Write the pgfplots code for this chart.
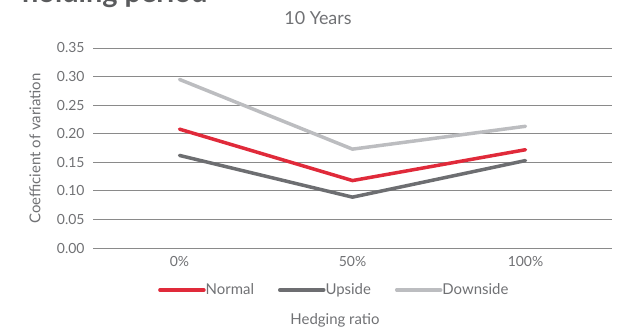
\documentclass[border=0pt]{standalone}
\usepackage{pgfplots}
\pgfplotsset{compat=1.18}
\usepackage{fontspec}
\setmainfont{Lato}
\definecolor{cred}{HTML}{E02A3A}
\definecolor{cdark}{HTML}{6D6E71}
\definecolor{clight}{HTML}{BCBDC0}
\definecolor{ctext}{HTML}{707174}
\definecolor{cgrid}{HTML}{8A8A8A}
\definecolor{ctitle}{HTML}{5A5B5D}
\begin{document}
\begin{tikzpicture}
\path[use as bounding box] (0,0) rectangle (621bp,332bp);
\begin{axis}[
  at={(93bp,84bp)}, anchor=south west,
  scale only axis, width=519bp, height=200bp,
  xmin=-0.5, xmax=2.5, ymin=0, ymax=0.35,
  xtick={0,1,2}, xticklabels={0\%,50\%,100\%},
  ytick={0,0.05,0.10,0.15,0.20,0.25,0.30,0.35},
  yticklabels={0.00,0.05,0.10,0.15,0.20,0.25,0.30,0.35},
  axis line style={draw=none},
  major tick length=0pt,
  ymajorgrids, grid style={cgrid, line width=1bp},
  tick label style={font=\fontsize{14}{16}\selectfont, text=ctext},
  yticklabel style={xshift=-5bp},
  xticklabel style={yshift=-5bp},
  legend columns=3,
  legend style={draw=none, fill=none, at={(0.465,-0.21)}, anchor=center,
    font=\fontsize{15}{17}\selectfont, text=ctext,
    /tikz/every even column/.append style={column sep=22bp},
    inner sep=0pt},
  legend image code/.code={\draw[#1, line width=3.5bp, line cap=round] (0bp,0bp) -- (44bp,0bp);},
  legend cell align=left,
  clip=false,
]
\addplot[cred, line width=3.5bp, line cap=round, line join=miter] coordinates {(0,0.208) (1,0.118) (2,0.172)};
\addlegendentry{\hspace{-2bp}Normal}
\addplot[cdark, line width=3.5bp, line cap=round, line join=miter] coordinates {(0,0.162) (1,0.089) (2,0.153)};
\addlegendentry{\hspace{-2bp}Upside}
\addplot[clight, line width=3.5bp, line cap=round, line join=miter] coordinates {(0,0.295) (1,0.173) (2,0.213)};
\addlegendentry{\hspace{-2bp}Downside}
\end{axis}
\node[font=\fontsize{15}{17}\selectfont, text=ctext, rotate=90] at (35bp,183.5bp) {Coefficient of variation};
\node[font=\fontsize{18}{20}\selectfont, text=ctext] at (318bp,314bp) {10 Years};
\node[font=\fontsize{15}{17}\selectfont, text=ctext] at (335bp,12bp) {Hedging ratio};
\node[font=\fontsize{29}{32}\selectfont\bfseries, text=ctitle, anchor=base west, inner sep=0pt] at (22bp,329bp) {holding period};
\end{tikzpicture}
\end{document}
